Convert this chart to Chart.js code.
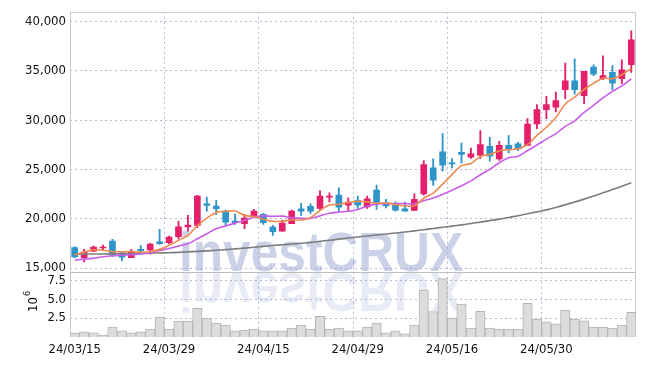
<!DOCTYPE html>
<html>
<head>
<meta charset="utf-8">
<script src="https://cdn.jsdelivr.net/npm/chart.js@4.4.1/dist/chart.umd.min.js"></script>
<style>
html,body{margin:0;padding:0;background:#fff;}
#wrap{width:645px;height:366px;position:relative;}
</style>
</head>
<body>
<div id="wrap"><canvas id="c" width="645" height="366"></canvas></div>
<script>
const dates = ["24/03/15","24/03/18","24/03/19","24/03/20","24/03/21","24/03/22","24/03/25","24/03/26","24/03/27","24/03/28",
"24/03/29","24/04/01","24/04/02","24/04/03","24/04/04","24/04/05","24/04/08","24/04/09","24/04/11","24/04/12",
"24/04/15","24/04/16","24/04/17","24/04/18","24/04/19","24/04/22","24/04/23","24/04/24","24/04/25","24/04/26",
"24/04/29","24/04/30","24/05/02","24/05/03","24/05/07","24/05/08","24/05/09","24/05/10","24/05/13","24/05/14",
"24/05/16","24/05/17","24/05/20","24/05/21","24/05/22","24/05/23","24/05/24","24/05/27","24/05/28","24/05/29",
"24/05/30","24/05/31","24/06/03","24/06/04","24/06/05","24/06/07","24/06/10","24/06/11","24/06/12","24/06/13"];

const openP  = [17065,16053,16700,17035,17743,16530,16053,16900,16830,17650,
17570,18180,19160,19330,21520,21280,20780,19770,19500,20270,
20445,19160,18750,19500,21010,21250,21050,22200,22400,21380,
21860,21210,22900,21620,21460,21010,20850,22530,25160,26780,
25670,26750,26240,26450,27360,26070,27460,27590,27430,29610,
31070,31330,33100,34000,32490,35380,34210,34850,34210,35630];
const highP  = [17166,16900,17237,17340,17915,16630,16900,17280,17510,18930,
18250,19770,20340,22370,22200,21860,20880,20480,20445,20950,
20540,19330,19870,20880,21560,21520,22870,22630,23140,22125,
22300,22300,23410,21960,21720,21690,22530,25900,26070,28640,
26110,27690,27180,28950,28270,27860,28440,27760,30160,31580,
32420,32850,35790,36230,34950,35630,36540,35550,36130,39070];
const lowP   = [16053,15620,16660,16860,16155,15720,16050,16660,16400,17400,
17470,17915,18740,19090,20780,20445,19330,19430,18990,20170,
19430,18320,18750,19500,20340,20550,20950,21720,20780,20710,
21050,21050,20950,21110,20780,20780,20850,22400,23380,24830,
25160,25670,26110,26110,25840,25910,26680,26920,27430,29150,
30160,30830,32180,32650,31680,34510,34110,33100,33700,34850];
const closeP = [16124,16630,17136,17136,16300,16090,16700,16760,17440,17470,
18150,19190,19360,22300,21360,21010,19665,19600,20070,20780,
19600,18680,19560,20780,20780,20780,22300,22300,21180,21690,
21380,22020,21620,21290,20880,20780,21960,25500,23920,25430,
25570,26520,26580,27530,26350,27460,27080,27080,29610,31070,
31580,31980,34000,33100,34950,34670,34540,33760,35120,38150];
const volumeM = [0.52,0.69,0.56,0.26,1.31,0.82,0.56,0.69,1.05,2.62,
1.05,2.09,2.09,3.80,2.49,1.83,1.57,0.82,0.92,1.05,
0.82,0.82,0.82,1.18,1.57,1.05,2.72,1.05,1.18,0.82,
0.82,1.31,1.83,0.56,0.82,0.43,1.57,6.19,3.35,7.72,
2.49,4.36,1.18,3.40,1.18,1.05,1.05,1.05,4.45,2.36,
2.00,1.74,3.57,2.36,2.13,1.31,1.31,1.18,1.57,3.27];
const ma5 = [16330,16600,16850,16800,16665,16658,16672,16597,16658,16892,
17304,17802,18322,19294,20072,20644,20739,20787,20341,20225,
19943,19746,19738,19880,19880,20116,20840,21388,21468,21650,
21770,21714,21578,21600,21438,21318,21306,22082,22608,23518,
24476,25388,25604,26326,26510,26888,27000,27100,27516,28460,
29284,30264,31648,32346,33122,33740,34252,34204,34608,35248];
const ma10 = [15820,15900,16000,16150,16250,16300,16350,16420,16550,16779,
16981,17237,17460,17976,18482,18974,19271,19555,19818,20149,
20294,20243,20263,20111,20053,20030,20293,20563,20674,20765,
20943,21277,21483,21534,21544,21544,21510,21830,22104,22478,
22897,23347,23843,24467,25014,25682,26194,26352,26921,27485,
28086,28632,29374,29931,30791,31512,32258,32926,33477,34185];
const ma60 = [16400,16410,16420,16430,16440,16450,16470,16490,16510,16530,
16550,16590,16640,16690,16740,16800,16870,16940,17020,17110,
17200,17280,17360,17440,17520,17600,17710,17820,17930,18040,
18150,18250,18350,18450,18550,18650,18770,18890,19010,19130,
19250,19380,19520,19660,19810,19960,20130,20310,20500,20700,
20900,21150,21420,21700,21990,22300,22630,22960,23300,23650];
const priceTicks = [15000,20000,25000,30000,35000,40000];
const volumeTicks = [2.5,5.0,7.5];

const UP = '#e4206a', DOWN = '#2f94c8';
const candleColors = closeP.map((c,i)=> c >= openP[i] ? UP : DOWN);
const GRID = 'rgba(175,180,205,0.9)';

Chart.defaults.font.family = "'DejaVu Sans Condensed','DejaVu Sans',sans-serif";
Chart.defaults.font.size = 13;
Chart.defaults.color = '#111';

const decor = {
  id:'decor',
  beforeDatasetsDraw(chart){
    const {ctx, chartArea:a} = chart;
    const yv = chart.scales.yv;
    ctx.save();
    ctx.font = "bold 56px 'Liberation Sans', Arial, sans-serif";
    const txt = 'investCRUX';
    const w = ctx.measureText(txt).width;
    const sx = 284 / w;
    const base = 270.5;
    ctx.save();
    ctx.translate(179, base);
    ctx.scale(sx, 1);
    ctx.fillStyle = 'rgba(140,155,205,0.45)';
    ctx.fillText(txt, 0, 0);
    ctx.restore();
    ctx.save();
    ctx.beginPath();
    ctx.rect(a.left, yv.top, a.right - a.left, yv.bottom - yv.top);
    ctx.clip();
    ctx.translate(179, base + 2);
    ctx.scale(sx, -1);
    ctx.fillStyle = 'rgba(140,155,205,0.2)';
    ctx.fillText(txt, 0, 0);
    ctx.restore();
    ctx.strokeStyle = 'rgba(200,200,212,1)';
    ctx.lineWidth = 1;
    ctx.strokeRect(Math.round(a.left)+0.5, Math.round(a.top)+0.5, Math.round(a.right-a.left)-1, Math.round(a.bottom-a.top)-1);
    ctx.strokeStyle = '#bdbdbd';
    ctx.beginPath();
    ctx.moveTo(a.left, Math.round(yv.top)+0.5);
    ctx.lineTo(a.right, Math.round(yv.top)+0.5);
    ctx.stroke();
    ctx.restore();
  },
  afterDraw(chart){
    const ctx = chart.ctx;
    ctx.save();
    ctx.translate(37, 312);
    ctx.rotate(-Math.PI/2);
    ctx.fillStyle = '#111';
    ctx.font = "13px 'DejaVu Sans Condensed','DejaVu Sans',sans-serif";
    ctx.textBaseline = 'alphabetic';
    ctx.fillText('10', 0, 0);
    const tw = ctx.measureText('10').width;
    ctx.font = "9px 'DejaVu Sans Condensed','DejaVu Sans',sans-serif";
    ctx.fillText('6', tw + 1, -7);
    ctx.restore();
  }
};

new Chart(document.getElementById('c'), {
  data: {
    labels: dates,
    datasets: [
      {type:'line', label:'MA5', data: ma5, yAxisID:'y', borderColor:'#ef8a50', borderWidth:1.6, pointRadius:0, tension:0.35, order:0},
      {type:'line', label:'MA10', data: ma10, yAxisID:'y', borderColor:'#c95ce8', borderWidth:1.6, pointRadius:0, tension:0.35, order:0},
      {type:'line', label:'MA60', data: ma60, yAxisID:'y', borderColor:'#7d7d7d', borderWidth:1.6, pointRadius:0, tension:0.35, order:0},
      {type:'bar', label:'body', data: openP.map((o,i)=>[o, closeP[i]]), yAxisID:'y', backgroundColor: candleColors, barThickness:6, grouped:false, order:1},
      {type:'bar', label:'wick', data: lowP.map((l,i)=>[l, highP[i]]), yAxisID:'y', backgroundColor: candleColors, barThickness:1.2, grouped:false, order:2},
      {type:'bar', label:'volume', data: volumeM, yAxisID:'yv', backgroundColor:'#dcdcdc', borderColor:'#b4b4b4', borderWidth:1, barPercentage:1, categoryPercentage:1, grouped:false, order:3}
    ]
  },
  options: {
    responsive:false,
    animation:false,
    events:[],
    layout:{padding:{top:9, right:9, left:0, bottom:0}},
    plugins:{legend:{display:false}, tooltip:{enabled:false}},
    scales:{
      x:{
        type:'category',
        offset:true,
        afterFit(s){ s.height = 29; },
        grid:{color:(c)=> (c.index % 10 === 0 ? GRID : 'rgba(0,0,0,0)'), drawTicks:false, lineWidth:1},
        border:{display:false, dash:[2,3]},
        ticks:{autoSkip:false, maxRotation:0, padding:5, color:'#111',
          callback:(v,i)=> (i % 10 === 0 ? dates[i] : '')}
      },
      yv:{
        type:'linear', position:'left', stack:'pane', stackWeight:1,
        min:0, max:8.6,
        afterFit(s){ s.width = 70; },
        afterBuildTicks(s){ s.ticks = volumeTicks.map(v=>({value:v})); },
        grid:{color:GRID, drawTicks:false},
        border:{display:false, dash:[2,3]},
        ticks:{autoSkip:false, padding:4, color:'#111', callback:(v)=> Number(v).toFixed(1)}
      },
      y:{
        type:'linear', position:'left', stack:'pane', stackWeight:4,
        min:14600, max:41000,
        afterFit(s){ s.width = 70; },
        afterBuildTicks(s){ s.ticks = priceTicks.map(v=>({value:v})); },
        grid:{color:GRID, drawTicks:false},
        border:{display:false, dash:[2,3]},
        ticks:{autoSkip:false, padding:4, color:'#111', callback:(v)=> Number(v).toLocaleString('en-US')}
      }
    }
  },
  plugins:[decor]
});
</script>
</body>
</html>
